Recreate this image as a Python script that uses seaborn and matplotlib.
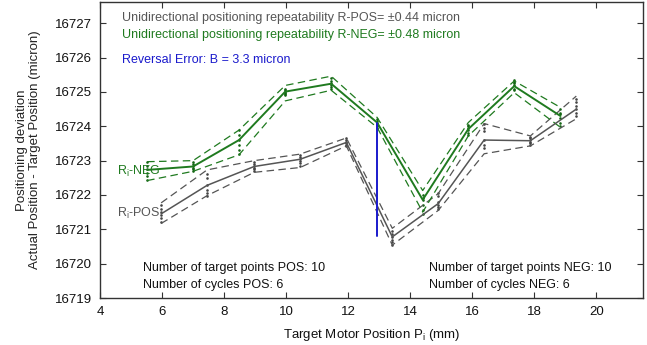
import numpy as np
import pandas as pd
import matplotlib
matplotlib.use("Agg")
import matplotlib.pyplot as plt
import seaborn as sns

# ---------------- data ----------------
pos_x = [5.97, 7.45, 8.97, 10.45, 11.94, 13.42, 14.90, 16.38, 17.87, 19.35]
pos_mean = [16721.45, 16722.28, 16722.83, 16723.04, 16723.53, 16720.78, 16721.75, 16723.60, 16723.58, 16724.50]
pos_upper = [16721.77, 16722.73, 16723.00, 16723.19, 16723.66, 16721.03, 16722.04, 16724.08, 16723.72, 16724.88]
pos_lower = [16721.17, 16721.98, 16722.66, 16722.80, 16723.43, 16720.54, 16721.55, 16723.20, 16723.43, 16724.22]

neg_x = [5.52, 7.00, 8.48, 9.97, 11.45, 12.93, 14.40, 15.87, 17.35, 18.84]
neg_mean = [16722.73, 16722.83, 16723.60, 16725.01, 16725.24, 16724.11, 16721.86, 16723.92, 16725.17, 16724.30]
neg_upper = [16722.97, 16723.00, 16723.89, 16725.19, 16725.46, 16724.26, 16722.13, 16724.11, 16725.32, 16724.55]
neg_lower = [16722.42, 16722.69, 16723.17, 16724.74, 16725.05, 16723.97, 16721.50, 16723.72, 16724.98, 16723.97]

# individual cycles (6 per target point)
pos_cycles = [
    [16721.72, 16721.60, 16721.50, 16721.42, 16721.33, 16721.22],
    [16722.60, 16722.50, 16722.30, 16722.15, 16722.05, 16721.98],
    [16722.95, 16722.90, 16722.85, 16722.80, 16722.75, 16722.70],
    [16723.15, 16723.10, 16723.05, 16722.98, 16722.92, 16722.85],
    [16723.65, 16723.60, 16723.55, 16723.50, 16723.47, 16723.42],
    [16720.95, 16720.85, 16720.78, 16720.70, 16720.62, 16720.55],
    [16722.05, 16721.98, 16721.80, 16721.72, 16721.66, 16721.60],
    [16724.08, 16723.95, 16723.85, 16723.60, 16723.45, 16723.38],
    [16723.70, 16723.65, 16723.60, 16723.55, 16723.50, 16723.45],
    [16724.80, 16724.70, 16724.60, 16724.50, 16724.40, 16724.30],
]
neg_cycles = [
    [16722.95, 16722.85, 16722.75, 16722.65, 16722.55, 16722.45],
    [16722.95, 16722.90, 16722.85, 16722.80, 16722.75, 16722.70],
    [16723.90, 16723.75, 16723.60, 16723.45, 16723.30, 16723.20],
    [16725.10, 16725.05, 16725.00, 16724.98, 16724.95, 16724.90],
    [16725.40, 16725.33, 16725.27, 16725.20, 16725.15, 16725.10],
    [16724.20, 16724.15, 16724.10, 16724.05, 16724.00, 16723.95],
    [16722.00, 16721.90, 16721.85, 16721.70, 16721.55, 16721.45],
    [16724.05, 16724.00, 16723.95, 16723.90, 16723.80, 16723.75],
    [16725.35, 16725.30, 16725.25, 16725.20, 16725.10, 16725.05],
    [16724.50, 16724.40, 16724.35, 16724.25, 16724.10, 16724.00],
]

reversal_idx = 5  # NEG point where reversal error drawn
reversal_B = 3.3

x_ticks = [4, 6, 8, 10, 12, 14, 16, 18, 20]
y_ticks = [16719, 16720, 16721, 16722, 16723, 16724, 16725, 16726, 16727]

# ---------------- style ----------------
sns.set_style("ticks")
FONT = ['Liberation Sans Narrow', 'Liberation Sans', 'DejaVu Sans']
plt.rcParams['font.family'] = FONT
plt.rcParams['xtick.direction'] = 'in'
plt.rcParams['ytick.direction'] = 'in'

GRAY = '#555555'
GREEN = '#1f7a1f'
BLUE = '#1a1acc'

fig = plt.figure(figsize=(6.47, 3.45), dpi=100)
ax = fig.add_axes([100/647, 1-298/345, 543/647, 296/345])

def cyc_frame(xs, cyc):
    rows = []
    for xv, vals in zip(xs, cyc):
        for v in vals:
            rows.append((xv, v))
    return pd.DataFrame(rows, columns=['x', 'y'])

dash = (6, 3.5)
for xs, up, lo, col in [(pos_x, pos_upper, pos_lower, GRAY), (neg_x, neg_upper, neg_lower, GREEN)]:
    sns.lineplot(x=xs, y=up, ax=ax, color=col, lw=0.9, sort=False,
                 linestyle=(0, dash), estimator=None)
    sns.lineplot(x=xs, y=lo, ax=ax, color=col, lw=0.9, sort=False,
                 linestyle=(0, dash), estimator=None)

sns.lineplot(x=pos_x, y=pos_mean, ax=ax, color=GRAY, lw=1.1, sort=False, estimator=None)
sns.lineplot(x=neg_x, y=neg_mean, ax=ax, color=GREEN, lw=1.4, sort=False, estimator=None)

dp = cyc_frame(pos_x, pos_cycles)
dn = cyc_frame(neg_x, neg_cycles)
sns.scatterplot(data=dp, x='x', y='y', ax=ax, color='#444444', s=3.5, marker='o', linewidth=0)
sns.scatterplot(data=dn, x='x', y='y', ax=ax, color='#146414', s=3.5, marker='o', linewidth=0)

# reversal error line
rx = neg_x[reversal_idx]
ax.plot([rx, rx], [neg_mean[reversal_idx], neg_mean[reversal_idx] - reversal_B], color=BLUE, lw=1.4)

ax.set_xlim(4, 21.5)
ax.set_ylim(16719, 16727.62)
ax.set_xticks(x_ticks)
ax.set_yticks(y_ticks)
ax.tick_params(axis='both', which='both', direction='in', top=True, right=True,
               length=4, width=0.8, labelsize=9.5, colors='#333333', pad=6)
ax.tick_params(axis='x', labelcolor='#111111')
ax.tick_params(axis='y', labelcolor='#111111')
for sp in ax.spines.values():
    sp.set_visible(True)
    sp.set_color('#333333')
    sp.set_linewidth(1.0)

ax.set_xlabel('Target Motor Position P$_\\mathregular{i}$ (mm)', fontsize=9.5, color='#111111', labelpad=6)
ax.set_ylabel('Positioning deviation\nActual Position - Target Position (micron)', fontsize=9.5,
              color='#222222', labelpad=10, linespacing=1.1)

fs = 9
ax.text(0.04, 0.945, 'Unidirectional positioning repeatability R-POS= \u00b10.44 micron',
        transform=ax.transAxes, color=GRAY, fontsize=fs, va='center')
ax.text(0.04, 0.89, 'Unidirectional positioning repeatability R-NEG= \u00b10.48 micron',
        transform=ax.transAxes, color=GREEN, fontsize=fs, va='center')
ax.text(0.04, 0.805, 'Reversal Error: B = 3.3 micron',
        transform=ax.transAxes, color=BLUE, fontsize=fs, va='center')

ax.text(5.95, neg_mean[0] - 0.05, 'R$_\\mathregular{i}$-NEG', color=GREEN, fontsize=fs, ha='right', va='center')
ax.text(5.95, pos_mean[0] + 0.0, 'R$_\\mathregular{i}$-POS', color=GRAY, fontsize=fs, ha='right', va='center')

ax.text(0.08, 0.1, 'Number of target points POS: 10', transform=ax.transAxes, fontsize=fs, color='#111111', va='center')
ax.text(0.08, 0.045, 'Number of cycles POS: 6', transform=ax.transAxes, fontsize=fs, color='#111111', va='center')
ax.text(0.605, 0.1, 'Number of target points NEG: 10', transform=ax.transAxes, fontsize=fs, color='#111111', va='center')
ax.text(0.605, 0.045, 'Number of cycles NEG: 6', transform=ax.transAxes, fontsize=fs, color='#111111', va='center')

fig.savefig('out.png', dpi=100)
